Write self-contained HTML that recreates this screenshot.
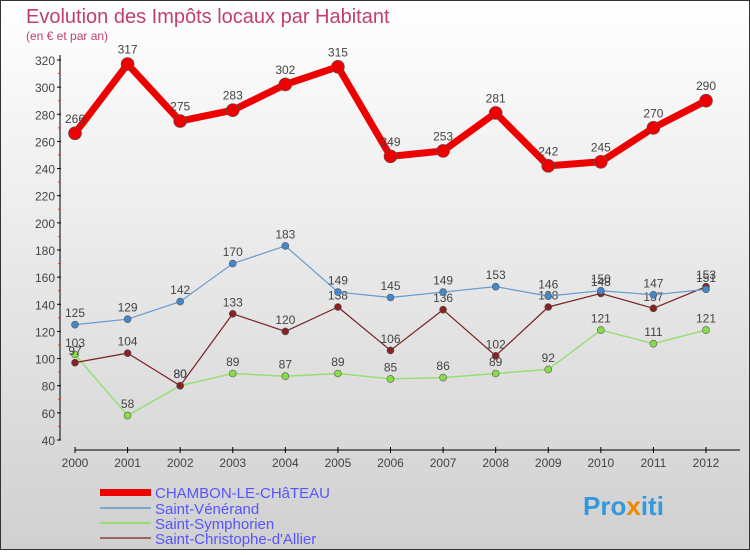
<!DOCTYPE html>
<html><head><meta charset="utf-8"><style>
body{margin:0;width:750px;height:550px;overflow:hidden;font-family:"Liberation Sans",sans-serif}
</style></head><body>
<svg width="750" height="550" xmlns="http://www.w3.org/2000/svg">
<defs><linearGradient id="bg" x1="0" y1="0" x2="0" y2="1"><stop offset="0" stop-color="#ffffff"/><stop offset="1" stop-color="#d0d0d0"/></linearGradient></defs>
<rect x="0.5" y="0.5" width="749" height="549" fill="url(#bg)" stroke="#333"/>
<text x="26" y="23" font-size="20" fill="#c0406a">Evolution des Impôts locaux par Habitant</text>
<text x="26" y="40" font-size="12" fill="#c0406a">(en € et par an)</text>
<g id="axes"></g><g id="series"></g>
<g>
<rect x="100" y="489" width="51" height="7" fill="#ee0000"/>
<text x="155" y="498" font-size="15" fill="#5555ff">CHAMBON-LE-CHâTEAU</text>
<rect x="100" y="507" width="51" height="2" fill="#7aa8cc"/>
<text x="155" y="514" font-size="15" fill="#5555ff">Saint-Vénérand</text>
<rect x="100" y="522" width="51" height="2" fill="#99dd77"/>
<text x="155" y="529" font-size="15" fill="#5555ff">Saint-Symphorien</text>
<rect x="100" y="537" width="51" height="2" fill="#996666"/>
<text x="155" y="544" font-size="15" fill="#5555ff">Saint-Christophe-d'Allier</text>
</g>
<g><text x="583" y="515" font-size="26" font-weight="bold" fill="#3399dd">Pro<tspan fill="#ee8800">x</tspan>iti</text></g>
</svg>
<script>
const years=["2000","2001","2002","2003","2004","2005","2006","2007","2008","2009","2010","2011","2012"];
const yTicks=[40,60,80,100,120,140,160,180,200,220,240,260,280,300,320];
const chambon=[266,317,275,283,302,315,249,253,281,242,245,270,290];
const venerand=[125,129,142,170,183,149,145,149,153,146,150,147,151];
const symphorien=[103,58,80,89,87,89,85,86,89,92,121,111,121];
const christophe=[97,104,80,133,120,138,106,136,102,138,148,137,153];
const NS="http://www.w3.org/2000/svg";
const x=i=>75+i*(706-75)/12;
const y=v=>440-(v-40)*380/280;
function mk(t,a,p){const e=document.createElementNS(NS,t);for(const k in a)e.setAttribute(k,a[k]);p.appendChild(e);return e;}
const ax=document.getElementById('axes');
let e=mk('line',{x1:60,y1:55,x2:60,y2:440,stroke:'#000'},ax);


e=mk('line',{x1:75,y1:450,x2:740,y2:450,stroke:'#000'},ax);


yTicks.forEach(v=>{
 mk('line',{x1:57,y1:y(v),x2:61,y2:y(v),stroke:'#000'},ax);
 if(v<320)mk('line',{x1:58,y1:y(v+10),x2:61,y2:y(v+10),stroke:'#e33'},ax);
 const t=mk('text',{x:55,y:y(v)+5,'font-size':12,'text-anchor':'end',fill:'#444'},ax);t.textContent=v;
 
 
});
years.forEach((yr,i)=>{
 mk('line',{x1:x(i),y1:447,x2:x(i),y2:453,stroke:'#000'},ax);
 const t=mk('text',{x:x(i),y:467,'font-size':12,'text-anchor':'middle',fill:'#444'},ax);t.textContent=yr;
 
 
});
const sg=document.getElementById('series');
function series(d,color,w,r,name,dot){
 const g=mk('g',{},sg);
 
 
 const l=mk('polyline',{points:d.map((v,i)=>x(i)+','+y(v)).join(' '),fill:'none',stroke:color,'stroke-width':w,'stroke-linejoin':'round'},g);
 
 
 d.forEach((v,i)=>{
  const c=mk('circle',{cx:x(i),cy:y(v),r:r,fill:dot,stroke:'#555','stroke-width':0.6},g);
  
  
  const t=mk('text',{x:x(i),y:y(v)-(r+4),'font-size':12,'text-anchor':'middle',fill:'#444'},g);t.textContent=v;
  
  
 });
}
series(symphorien,'#99dd77',1.5,3.5,'symphorien','#88dd44');
series(christophe,'#772222',1.2,3.5,'christophe','#882222');
series(venerand,'#6699cc',1.2,3.5,'venerand','#4488cc');
series(chambon,'#ee0000',7,6.5,'chambon','#ee0000');
</script>
</body></html>
